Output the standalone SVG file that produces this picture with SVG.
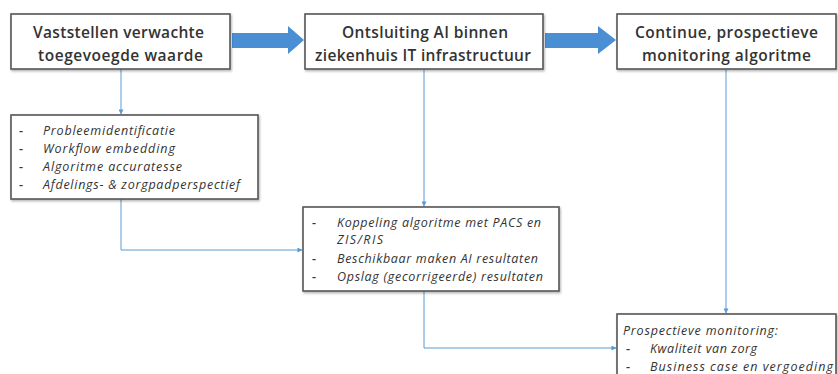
<svg xmlns="http://www.w3.org/2000/svg" width="838" height="374" viewBox="0 0 838 374">
  <defs>
    <marker id="tip" viewBox="0 0 6 6" refX="5.5" refY="3" markerWidth="5" markerHeight="5" orient="auto" markerUnits="userSpaceOnUse">
      <path d="M0,0 L6,3 L0,6 z" fill="#5b9bd5"/>
    </marker>
    <filter id="shadow" x="-5%" y="-10%" width="110%" height="130%">
      <feDropShadow dx="1" dy="1.5" stdDeviation="0.8" flood-color="#000" flood-opacity="0.3"/>
    </filter>
  </defs>
  <style>
    .box { fill: #ffffff; stroke: #555555; stroke-width: 1.6; filter: url(#shadow); }
    .title { font-family: "Open Sans", "Liberation Sans", Arial, sans-serif; font-size: 15.5px; font-weight: 600; fill: #333333; text-anchor: middle; }
    .item { font-family: "Open Sans", "Liberation Sans", Arial, sans-serif; font-size: 12.5px; font-weight: 500; font-style: italic; fill: #333333; }
    .dash { font-family: "Open Sans", "Liberation Sans", Arial, sans-serif; font-size: 12.5px; font-weight: 600; fill: #333333; }
    .flow { fill: #4a8fd4; }
    .link { fill: none; stroke: #5b9bd5; stroke-width: 1; marker-end: url(#tip); }
  </style>
  <rect width="838" height="374" fill="#ffffff"/>

  <g id="connectors">
    <!-- broad phase arrows -->
    <path class="flow" d="M232,33 L288,33 L288,26 L304,40 L288,54 L288,48 L232,48 z"/>
    <path class="flow" d="M545,33 L598,33 L598,26 L616,40 L598,54 L598,48 L545,48 z"/>
    <!-- thin links -->
    <path class="link" d="M121,69 L121,114"/>
    <path class="link" d="M121,199 L121,250 L302,250"/>
    <path class="link" d="M424,69 L424,206"/>
    <path class="link" d="M424,291 L424,348 L616,348"/>
    <path class="link" d="M726,69 L726,313"/>
  </g>

  <g id="phase1">
    <rect class="box" x="11" y="14" width="219" height="55"/>
    <text class="title" x="118.5" y="37.5" textLength="171">Vaststellen verwachte</text>
    <text class="title" x="120.5" y="61" textLength="165">toegevoegde waarde</text>
  </g>

  <g id="phase2">
    <rect class="box" x="305" y="14" width="238" height="55"/>
    <text class="title" x="425" y="37.5" textLength="166">Ontsluiting AI binnen</text>
    <text class="title" x="423" y="61" textLength="216">ziekenhuis IT infrastructuur</text>
  </g>

  <g id="phase3">
    <rect class="box" x="617" y="14" width="219" height="55"/>
    <text class="title" x="726.5" y="37.5" textLength="183">Continue, prospectieve</text>
    <text class="title" x="726.5" y="61" textLength="169">monitoring algoritme</text>
  </g>

  <g id="value-items">
    <rect class="box" x="11" y="115" width="247" height="84"/>
    <text class="dash" x="19" y="135">-</text>
    <text class="item" x="43" y="135" textLength="132">Probleemidentificatie</text>
    <text class="dash" x="19" y="153">-</text>
    <text class="item" x="43" y="153" textLength="132">Workflow embedding</text>
    <text class="dash" x="19" y="171">-</text>
    <text class="item" x="43" y="171" textLength="139">Algoritme accuratesse</text>
    <text class="dash" x="19" y="188.5">-</text>
    <text class="item" x="43" y="188.5" textLength="197">Afdelings- &amp; zorgpadperspectief</text>
  </g>

  <g id="integration-items">
    <rect class="box" x="303" y="207" width="256" height="84"/>
    <text class="dash" x="312" y="227">-</text>
    <text class="item" x="337" y="227" textLength="204">Koppeling algoritme met PACS en</text>
    <text class="item" x="337" y="244" textLength="46">ZIS/RIS</text>
    <text class="dash" x="312" y="263">-</text>
    <text class="item" x="337" y="263" textLength="201">Beschikbaar maken AI resultaten</text>
    <text class="dash" x="312" y="281">-</text>
    <text class="item" x="337" y="281" textLength="206">Opslag (gecorrigeerde) resultaten</text>
  </g>

  <g id="monitoring-items">
    <rect class="box" x="617" y="314" width="219" height="70"/>
    <text class="item" x="623" y="335" textLength="155">Prospectieve monitoring:</text>
    <text class="dash" x="626" y="353">-</text>
    <text class="item" x="650" y="353" textLength="107">Kwaliteit van zorg</text>
    <text class="dash" x="626" y="371">-</text>
    <text class="item" x="650" y="371" textLength="183">Business case en vergoeding</text>
  </g>
</svg>
